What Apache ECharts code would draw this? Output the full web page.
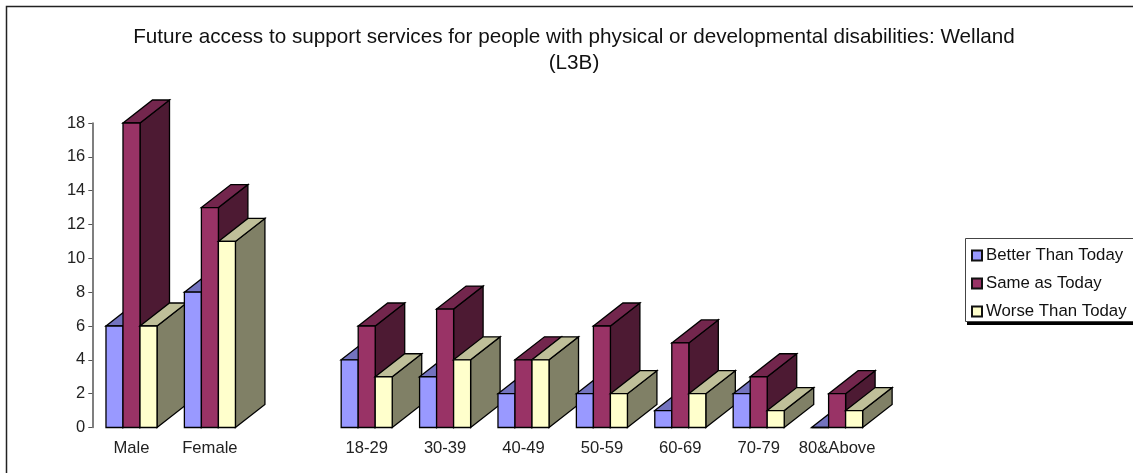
<!DOCTYPE html>
<html>
<head>
<meta charset="utf-8">
<style>html,body{margin:0;padding:0;background:#fff;overflow:hidden}#c{width:1133px;height:473px}</style>
<script src="https://cdn.jsdelivr.net/npm/echarts@6/dist/echarts.min.js"></script>
</head>
<body>
<div id="c"></div>
<script>
var categories = ['Male', 'Female', '', '18-29', '30-39', '40-49', '50-59', '60-69', '70-79', '80&Above'];
var better = [6, 8, null, 4, 3, 2, 2, 1, 2, 0];
var same   = [18, 13, null, 6, 7, 4, 6, 5, 3, 2];
var worse  = [6, 11, null, 3, 4, 4, 2, 2, 1, 1];
var seriesNames = ['Better Than Today', 'Same as Today', 'Worse Than Today'];
var yTicks = { min: 0, max: 18, interval: 2 };
var palette = [
  { front: '#9999FF', top: '#7373BF', side: '#4D4D80' },
  { front: '#993366', top: '#73264D', side: '#4D1A33' },
  { front: '#FFFFCC', top: '#BFBF99', side: '#808066' }
];
var FONT = '"Liberation Sans", Arial, sans-serif';
var DEPTH_X = 29.5, DEPTH_Y = -23, BAR_FRAC = 0.217;

function makeSeries(si, values) {
  var pal = palette[si];
  var data = [];
  values.forEach(function (v, i) { if (v !== null) data.push([i, v]); });
  return {
    name: seriesNames[si],
    type: 'custom',
    data: data,
    encode: { x: 0, y: 1 },
    itemStyle: { color: pal.front, borderColor: '#111', borderWidth: 1 },
    renderItem: function (params, api) {
      var ci = api.value(0);
      var top = api.coord([ci, api.value(1)]);
      var base = api.coord([ci, 0]);
      var w = api.size([1, 0])[0] * BAR_FRAC;
      var x0 = top[0] + (si - 1.5) * w;
      var x1 = x0 + w;
      var yt = top[1], yb = base[1];
      var order = ci * 10 + si * 3;
      var st = function (fill) { return { fill: fill, stroke: '#000', lineWidth: 1.3 }; };
      var poly = function (pts, fill, dz) {
        return { type: 'polygon', z2: order + dz, shape: { points: pts }, style: st(fill) };
      };
      return {
        type: 'group',
        children: [
          poly([[x1, yb], [x1 + DEPTH_X, yb + DEPTH_Y], [x1 + DEPTH_X, yt + DEPTH_Y], [x1, yt]], pal.side, 0),
          poly([[x0, yt], [x0 + DEPTH_X, yt + DEPTH_Y], [x1 + DEPTH_X, yt + DEPTH_Y], [x1, yt]], pal.top, 1),
          poly([[x0, yb], [x1, yb], [x1, yt], [x0, yt]], pal.front, 2)
        ]
      };
    }
  };
}

var chart = echarts.init(document.getElementById('c'), null, { renderer: 'canvas' });
chart.setOption({
  animation: false,
  backgroundColor: '#fff',
  graphic: [
    { type: 'rect', silent: true, z: 0,
      shape: { x: 6.5, y: 6.5, width: 1300, height: 700 },
      style: { fill: 'none', stroke: '#222', lineWidth: 1.5 } },
    { type: 'rect', silent: true, z: 1,
      shape: { x: 967, y: 240, width: 220, height: 85 },
      style: { fill: '#000' } },
    { type: 'rect', silent: true, z: 2,
      shape: { x: 965.5, y: 238.5, width: 220, height: 83 },
      style: { fill: '#fff', stroke: '#444', lineWidth: 1 } }
  ],
  title: {
    text: 'Future access to support services for people with physical or developmental disabilities: Welland\n(L3B)',
    left: 569, top: 19, textAlign: 'center',
    textStyle: { fontFamily: FONT, fontSize: 20.7, fontWeight: 'normal', color: '#111', lineHeight: 26 }
  },
  legend: {
    orient: 'vertical', left: 966, top: 239, z: 5,
    padding: [8, 6, 3, 5], itemWidth: 10, itemHeight: 10, itemGap: 11,
    icon: 'rect',
    data: seriesNames,
    textStyle: { fontFamily: FONT, fontSize: 16.8, color: '#111', padding: [0, 0, 0, -1] }
  },
  grid: { left: 92.3, top: 123, width: 784, height: 304.5, containLabel: false },
  xAxis: {
    type: 'category', data: categories,
    axisLine: { show: false }, axisTick: { show: false }, splitLine: { show: false },
    axisLabel: { interval: 0, margin: 12, fontFamily: FONT, fontSize: 16.6, color: '#222' }
  },
  yAxis: {
    type: 'value', min: yTicks.min, max: yTicks.max, interval: yTicks.interval,
    axisLine: { show: true, lineStyle: { color: '#555', width: 1.5 } },
    axisTick: { show: true, length: 4, lineStyle: { color: '#555', width: 1 } },
    splitLine: { show: false },
    axisLabel: { margin: 7, fontFamily: FONT, fontSize: 16.5, color: '#222', padding: [6, 0, 0, 0] }
  },
  series: [makeSeries(0, better), makeSeries(1, same), makeSeries(2, worse)]
});
</script>
</body>
</html>
